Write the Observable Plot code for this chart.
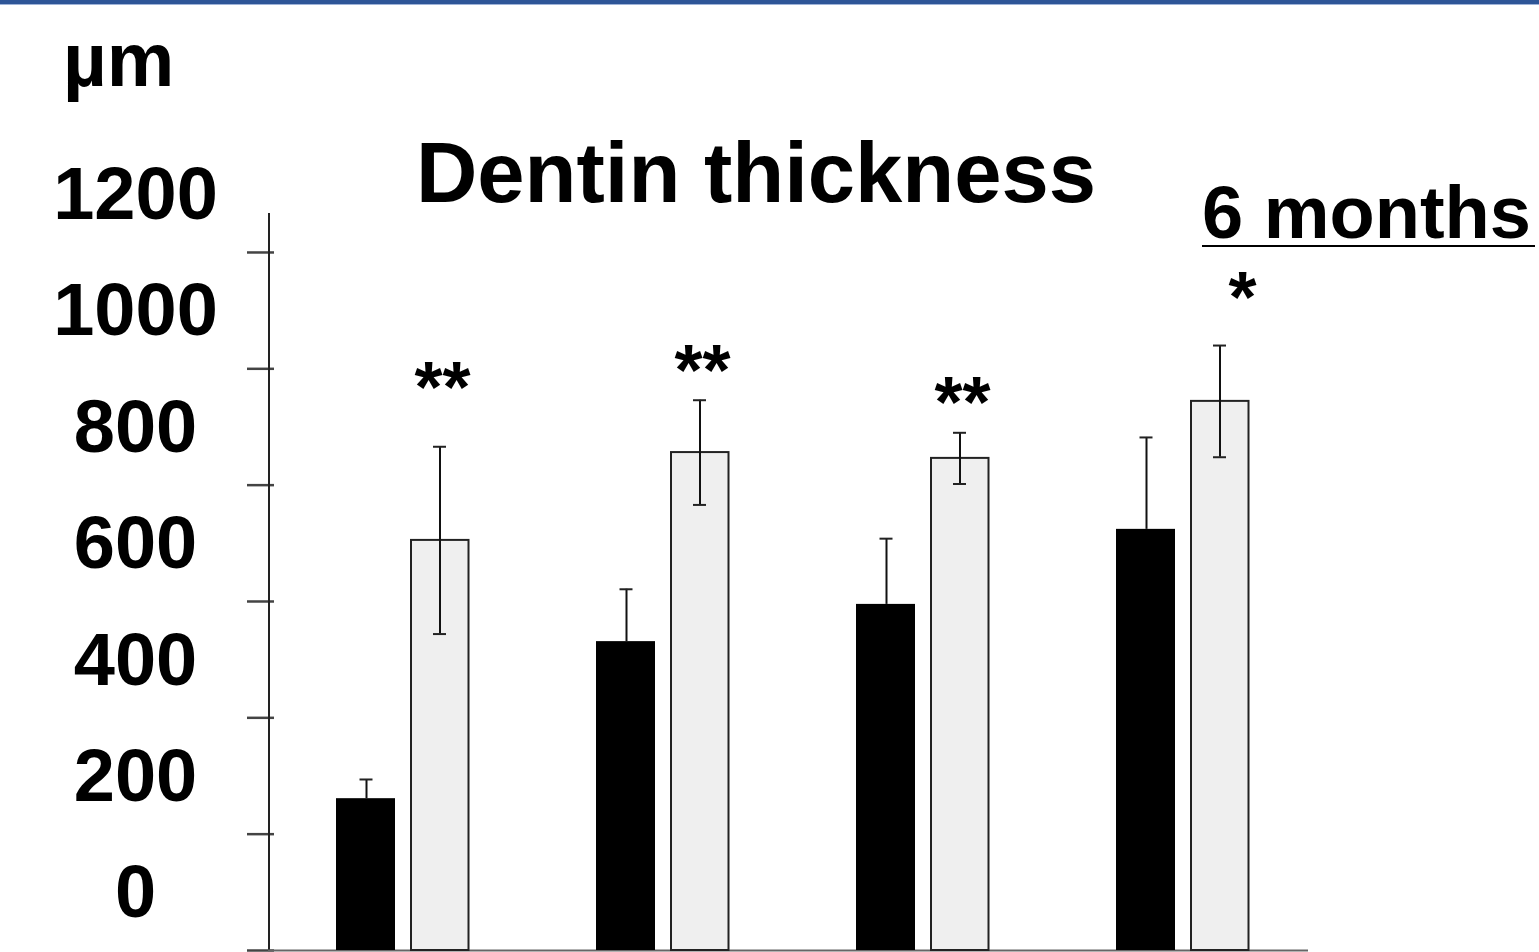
<!DOCTYPE html>
<html>
<head>
<meta charset="utf-8">
<script src="https://cdn.jsdelivr.net/npm/d3@7"></script>
<script src="https://cdn.jsdelivr.net/npm/@observablehq/plot@0.6"></script>
<style>
  html, body { margin: 0; padding: 0; background: #fff; }
  body { width: 1539px; height: 952px; position: relative; overflow: hidden;
         font-family: "Liberation Sans", Arial, Helvetica, sans-serif; }
  .lbl { position: absolute; font-weight: bold; line-height: 1; white-space: nowrap; color: #000; }
  #chart { position: absolute; left: 0; top: 0; }
</style>
</head>
<body>
<div id="chart"></div>
<div style="position:absolute;left:0;top:0;width:1539px;height:4px;background:#2E5597;"></div>
<div style="position:absolute;left:0;top:4px;width:1539px;height:1px;background:#9fb3d8;"></div>
<div class="lbl" id="unit" style="left:63px;top:22px;font-size:76px;">µm</div>
<div class="lbl" id="title" style="left:756px;top:130px;font-size:85px;transform:translateX(-50%);">Dentin thickness</div>
<div class="lbl" id="period" style="left:1202px;top:176px;font-size:74px;">6 months</div>
<div style="position:absolute;left:1202px;top:245px;width:333px;height:2px;background:#000;"></div>
<script>
// ---- data ----
const groups    = ["G1", "G2", "G3", "G4"];
const blackMean = [261, 531, 595, 724];
const blackErr  = [33, 90, 113, 158];
const grayMean  = [705, 856, 846, 944];
const grayErr   = [161, 90, 44, 96];
const starText  = ["**", "**", "**", "*"];
const starY     = [989, 1019, 963, 1145];
const yTicks    = [0, 200, 400, 600, 800, 1000, 1200];
const yTop      = 1267;

const rows = groups.map((g, i) => ({
  group: g,
  black: blackMean[i], blackTop: blackMean[i] + blackErr[i],
  gray: grayMean[i], grayLo: grayMean[i] - grayErr[i], grayHi: grayMean[i] + grayErr[i],
  star: starText[i], starY: starY[i]
}));
const starsA = rows.slice(0, 3);
const starsB = rows.slice(3);

const chart = Plot.plot({
  width: 1539,
  height: 952,
  marginLeft: 268,
  marginRight: 231,
  marginTop: 213,
  marginBottom: 2,
  style: { fontFamily: "Liberation Sans, Arial, sans-serif", background: "transparent", overflow: "visible" },
  x: { type: "band", domain: groups, range: [272, 1315], padding: 0, axis: null },
  y: { domain: [0, yTop], axis: null },
  marks: [
    // ticks crossing the axis
    Plot.axisY({ ticks: yTicks, tickSize: 27, dx: 6, tickFormat: () => "", label: null, stroke: "#444", strokeWidth: 2.5, strokeOpacity: 1 }),
    // vertical axis line (at the left edge of the frame)
    Plot.ruleX(groups.slice(0, 1), { x: d => d, y1: 0, y2: yTop, dx: -135.5, stroke: "#222", strokeWidth: 2 }),
    // tick labels (offset above ticks as in the reference)
    Plot.text(yTicks, { y: d => d, text: d => String(d), frameAnchor: "left", dx: -133, dy: -57,
      textAnchor: "middle", fontSize: 74, fontWeight: "bold", fill: "#000" }),
    // baseline
    Plot.ruleY([0], { stroke: "#666", strokeWidth: 2 }),
    // black bars
    Plot.barY(rows, { x: "group", y: "black", fill: "#000", insetLeft: 62, insetRight: 139 }),
    // grey bars
    Plot.barY(rows, { x: "group", y: "gray", fill: "#efefef", stroke: "#222", strokeWidth: 2, insetLeft: 137, insetRight: 65.5 }),
    // black error bars (upper only)
    Plot.ruleX(rows, { x: "group", y1: "black", y2: "blackTop", dx: -38, stroke: "#111", strokeWidth: 2 }),
    Plot.tickY(rows, { x: "group", y: "blackTop", insetLeft: 85.5, insetRight: 161.5, stroke: "#222", strokeWidth: 2 }),
    // grey error bars (both directions)
    Plot.ruleX(rows, { x: "group", y1: "grayLo", y2: "grayHi", dx: 35.5, stroke: "#111", strokeWidth: 2 }),
    Plot.tickY(rows, { x: "group", y: "grayHi", insetLeft: 159, insetRight: 88, stroke: "#222", strokeWidth: 2 }),
    Plot.tickY(rows, { x: "group", y: "grayLo", insetLeft: 159, insetRight: 88, stroke: "#222", strokeWidth: 2 }),
    // significance stars
    Plot.text(starsA, { x: "group", y: "starY", text: "star", dx: 38, dy: 14, fontSize: 72, fontWeight: "bold", fill: "#000" }),
    Plot.text(starsB, { x: "group", y: "starY", text: "star", dx: 58, dy: 14, fontSize: 72, fontWeight: "bold", fill: "#000" })
  ]
});
document.getElementById("chart").appendChild(chart);
</script>
</body>
</html>
